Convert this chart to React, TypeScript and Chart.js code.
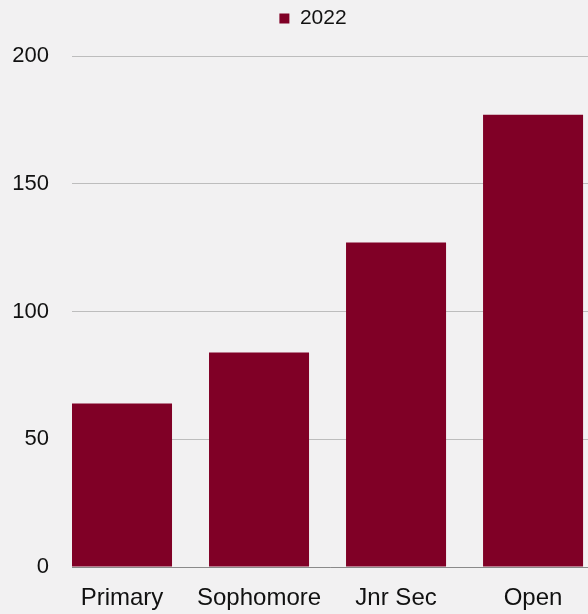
import React, { useEffect, useRef } from "react";
import { Chart, registerables } from "chart.js";

Chart.register(...registerables);

const categories = ["Primary", "Sophomore", "Jnr Sec", "Open"];
const seriesLabel = "2022";
const values2022 = [64, 84, 127, 177];
const yTicks = [0, 50, 100, 150, 200];

const FONT = "'Liberation Sans', Arial, sans-serif";
const BAR = "#800026";
const BG = "#f2f1f2";

const legendTweak = {
  id: "legendTweak",
  beforeInit(chart: any) {
    const legend = chart.legend;
    if (!legend) return;
    const fit = legend.fit;
    legend.fit = function () {
      fit.call(legend);
      legend.height += 22;
    };
  },
  afterLayout(chart: any) {
    const legend = chart.legend;
    if (!legend) return;
    legend.left += 19;
    legend.right += 19;
    legend.top += 5;
    legend.bottom += 5;
  },
};

export default function App() {
  const ref = useRef<HTMLCanvasElement | null>(null);
  useEffect(() => {
    document.body.style.margin = "0";
    document.body.style.background = BG;
    const ctx = ref.current!;
    const chart = new Chart(ctx, {
      type: "bar",
      data: {
        datasets: [
          {
            label: seriesLabel,
            data: values2022.map((v, i) => ({ x: i, y: v })),
            backgroundColor: BAR,
            borderWidth: 0,
            categoryPercentage: 1,
            barPercentage: 0.73,
          },
        ],
      },
      plugins: [legendTweak],
      options: {
        animation: false,
        responsive: false,
        maintainAspectRatio: false,
        layout: { padding: 0 },
        plugins: {
          tooltip: { enabled: false },
          legend: {
            position: "top",
            labels: {
              boxWidth: 10,
              boxHeight: 10,
              padding: 3,
              color: "#111",
              font: { family: FONT, size: 21 },
            },
          },
        },
        scales: {
          x: {
            type: "linear",
            offset: false,
            min: -0.365,
            max: 3.401,
            afterBuildTicks: (scale: any) => {
              scale.ticks = categories.map((_, i) => ({ value: i }));
            },
            afterFit: (scale: any) => {
              scale.height = 47;
            },
            grid: { display: false, drawTicks: false },
            border: { display: true, color: "#8a8a8a", width: 1 },
            ticks: {
              autoSkip: false,
              maxRotation: 0,
              padding: 17,
              color: "#111",
              font: { family: FONT, size: 24 },
              callback: (v: any) => categories[v as number] ?? "",
            },
          },
          y: {
            min: 0,
            max: 200,
            afterBuildTicks: (scale: any) => {
              scale.ticks = yTicks.map((v) => ({ value: v }));
            },
            afterFit: (scale: any) => {
              scale.width = 72;
            },
            grid: { color: "#bdbdbd", drawTicks: false, lineWidth: 1 },
            border: { display: false },
            ticks: {
              padding: 23,
              color: "#111",
              font: { family: FONT, size: 22 },
            },
          },
        },
      },
    });
    return () => chart.destroy();
  }, []);
  return (
    <div style={{ position: "fixed", left: 0, top: 0, width: 588, height: 614, background: BG }}>
      <canvas ref={ref} width={588} height={614} style={{ width: 588, height: 614 }} />
    </div>
  );
}
